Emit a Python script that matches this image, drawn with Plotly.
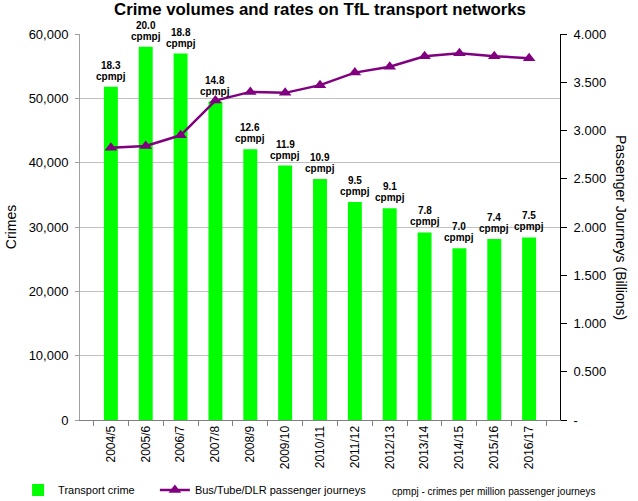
import plotly.graph_objects as go

years = ["2004/5", "2005/6", "2006/7", "2007/8", "2008/9", "2009/10", "2010/11",
         "2011/12", "2012/13", "2013/14", "2014/15", "2015/16", "2016/17"]
crimes = [51800, 58000, 56950, 49500, 42100, 39550, 37450, 33900, 32900, 29150, 26700, 28130, 28380]
journeys = [2.82, 2.84, 2.95, 3.31, 3.40, 3.39, 3.47, 3.60, 3.66, 3.77, 3.80, 3.77, 3.75]
cpmpj = ["18.3", "20.0", "18.8", "14.8", "12.6", "11.9", "10.9", "9.5", "9.1", "7.8", "7.0", "7.4", "7.5"]

y2_vals = [0, 0.5, 1.0, 1.5, 2.0, 2.5, 3.0, 3.5, 4.0]
y2_text = ["-", "0.500", "1.000", "1.500", "2.000", "2.500", "3.000", "3.500", "4.000"]

FONT = "Liberation Sans, Arial, sans-serif"

fig = go.Figure()
fig.add_trace(go.Bar(
    x=years, y=crimes, name="Transport crime",
    marker=dict(color="#00ff00", line=dict(width=0)),
    yaxis="y", legend="legend",
))
fig.add_trace(go.Scatter(
    x=years, y=journeys, name="Bus/Tube/DLR passenger journeys",
    mode="lines+markers",
    line=dict(color="#800080", width=2.5),
    marker=dict(symbol="triangle-up", size=11, color="#800080"),
    yaxis="y2", legend="legend2",
))

annotations = []
for yr, c, t in zip(years, crimes, cpmpj):
    annotations.append(dict(
        x=yr, y=c, xref="x", yref="y",
        text="<b>cpmpj</b>",
        showarrow=False, yanchor="bottom", yshift=3,
        font=dict(family=FONT, size=10, color="#000000"),
    ))
    annotations.append(dict(
        x=yr, y=c, xref="x", yref="y",
        text="<b>%s</b>" % t,
        showarrow=False, yanchor="bottom", yshift=14,
        font=dict(family=FONT, size=10, color="#000000"),
    ))
annotations.append(dict(
    x=(493 - 80) / 480, y=-(491 - 420) / 386, xref="paper", yref="paper",
    xanchor="center", yanchor="middle",
    text="cpmpj - crimes per million passenger journeys",
    showarrow=False, font=dict(family=FONT, size=10, color="#000000"),
))
# right axis title (reads top-to-bottom)
annotations.append(dict(
    text="Passenger Journeys (Billions)", textangle=90,
    xref="paper", yref="paper", x=1.148, y=0.5,
    showarrow=False, font=dict(family=FONT, size=14, color="#000000"),
))

leg_common = dict(orientation="h", yanchor="middle", y=-(70 / 386),
                  font=dict(family=FONT, size=11, color="#000000"),
                  bgcolor="rgba(0,0,0,0)")

fig.update_layout(
    width=638, height=501,
    margin=dict(l=80, r=78, t=34, b=81, autoexpand=False),
    paper_bgcolor="white", plot_bgcolor="white",
    font=dict(family=FONT, size=12, color="#000000"),
    title=dict(text="<b>Crime volumes and rates on TfL transport networks</b>",
               x=0.5, xref="paper", y=1 - 9 / 501, yanchor="middle",
               font=dict(family=FONT, size=16.8, color="#000000")),
    bargap=0.6,
    showlegend=True,
    legend=dict(x=-0.129, xanchor="left", **leg_common),
    legend2=dict(x=0.156, xanchor="left", **leg_common),
    xaxis=dict(
        type="category", tickangle=-90, tickfont=dict(family=FONT, size=12),
        showline=True, linecolor="#808080", linewidth=1,
        ticks="outside", tickson="boundaries", ticklen=5, tickcolor="#808080",
        showgrid=False, automargin=False,
    ),
    yaxis=dict(
        range=[0, 60000], dtick=10000, tickformat=",",
        title=dict(text="Crimes", font=dict(family=FONT, size=14), standoff=8),
        tickfont=dict(family=FONT, size=13), ticklabelstandoff=4,
        showline=True, linecolor="#a0a0a0", linewidth=1,
        ticks="outside", ticklen=4, tickcolor="#a0a0a0",
        showgrid=True, gridcolor="#c0c0c0", gridwidth=1,
        zeroline=False, automargin=False,
    ),
    yaxis2=dict(
        overlaying="y", side="right", range=[0, 4],
        tickvals=y2_vals, ticktext=y2_text,
        tickfont=dict(family=FONT, size=13), ticklabelstandoff=4,
        showline=True, linecolor="#000000", linewidth=1,
        ticks="outside", ticklen=6, tickcolor="#000000",
        showgrid=False, zeroline=False, automargin=False,
    ),
    annotations=annotations,
)

fig.write_html("out.html",
               config={"displayModeBar": False},
               post_script="document.body.style.margin='0px';document.body.style.overflow='hidden';")
